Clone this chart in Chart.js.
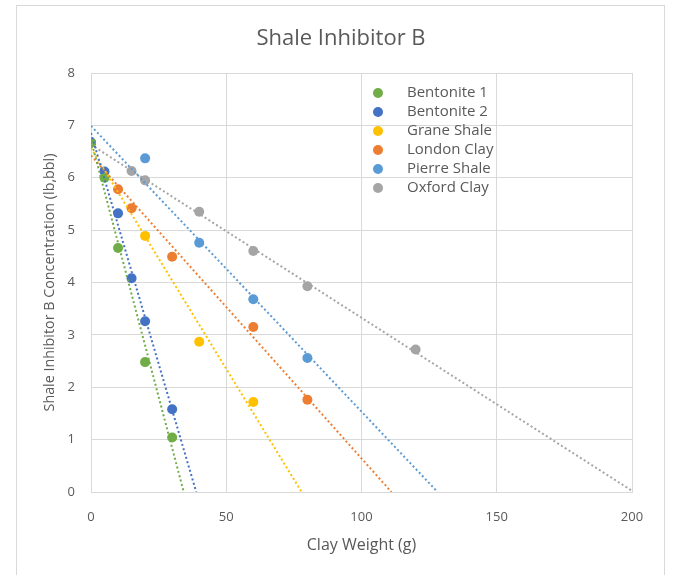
<!DOCTYPE html>
<html>
<head>
<meta charset="utf-8">
<script src="https://cdn.jsdelivr.net/npm/chart.js@4"></script>
<style>
  html, body { margin: 0; padding: 0; background: #fff; overflow: hidden; }
  #wrap { position: relative; width: 673px; height: 575px; }
  #frame { position: absolute; left: 16px; top: 5px; width: 647px; height: 600px; border: 1px solid #d9d9d9; }
  #chart { position: absolute; left: 0; top: 0; }
</style>
</head>
<body>
<div id="wrap">
  <div id="frame"></div>
  <canvas id="chart" width="673" height="575"></canvas>
</div>
<script>
// series names and colours (Excel default palette)
const seriesNames = ["Bentonite 1", "Bentonite 2", "Grane Shale", "London Clay", "Pierre Shale", "Oxford Clay"];
const seriesColors = ["#70AD47", "#4472C4", "#FFC000", "#ED7D31", "#5B9BD5", "#A5A5A5"];

// clay weight (g) and concentration (lb,bbl)
const bentonite1X = [0, 5, 10, 20, 30];
const bentonite1Y = [6.67, 6.0, 4.66, 2.48, 1.04];
const bentonite2X = [0, 5, 10, 15, 20, 30];
const bentonite2Y = [6.67, 6.12, 5.32, 4.08, 3.26, 1.58];
const graneX = [0, 20, 40, 60];
const graneY = [6.67, 4.89, 2.87, 1.72];
const londonX = [0, 10, 15, 30, 60, 80];
const londonY = [6.67, 5.78, 5.42, 4.49, 3.15, 1.76];
const pierreX = [0, 20, 40, 60, 80];
const pierreY = [6.67, 6.37, 4.76, 3.68, 2.56];
const oxfordX = [0, 15, 20, 40, 60, 80, 120];
const oxfordY = [6.67, 6.13, 5.95, 5.35, 4.60, 3.93, 2.72];

const xTicks = [0, 50, 100, 150, 200];
const yTicks = [0, 1, 2, 3, 4, 5, 6, 7, 8];

const seriesX = [bentonite1X, bentonite2X, graneX, londonX, pierreX, oxfordX];
const seriesY = [bentonite1Y, bentonite2Y, graneY, londonY, pierreY, oxfordY];

const chartTitle = "Shale Inhibitor B";
const yTitle = "Shale Inhibitor B Concentration (lb,bbl)";
const textColor = "#595959";
const gridColor = "#d9d9d9";
const fontFamily = "'Open Sans', 'Noto Sans', sans-serif";

// least squares line, run forward until it meets the x axis (like an Excel trendline)
function trendline(xs, ys) {
  let n = xs.length;
  let mx = xs.reduce((a, b) => a + b, 0) / n;
  let my = ys.reduce((a, b) => a + b, 0) / n;
  let sxy = 0, sxx = 0;
  for (let i = 0; i < n; i++) {
    sxy += (xs[i] - mx) * (ys[i] - my);
    sxx += (xs[i] - mx) ** 2;
  }
  let slope = sxy / sxx;
  let icpt = my - slope * mx;
  let xEnd = Math.min(-icpt / slope, xTicks[xTicks.length - 1]);
  return [{ x: 0, y: icpt }, { x: xEnd, y: icpt + slope * xEnd }];
}

let datasets = [];
seriesNames.forEach(function (name, i) {
  datasets.push({
    label: name,
    data: seriesX[i].map((x, j) => ({ x: x, y: seriesY[i][j] })),
    backgroundColor: seriesColors[i],
    borderColor: seriesColors[i],
    pointRadius: 5,
    pointHoverRadius: 5,
    borderWidth: 0,
    order: 2,
  });
});
seriesNames.forEach(function (name, i) {
  datasets.push({
    label: name + " trend",
    data: trendline(seriesX[i], seriesY[i]),
    showLine: true,
    borderColor: seriesColors[i],
    borderWidth: 2,
    borderDash: [2, 2.5],
    pointRadius: 0,
    order: 1,
  });
});

// title centred on the whole frame, y title on the plot middle, legend inside the plot
const frameText = {
  id: "frameText",
  afterDraw(chart) {
    const ctx = chart.ctx;
    const area = chart.chartArea;
    ctx.save();
    ctx.fillStyle = textColor;
    ctx.textBaseline = "middle";
    ctx.textAlign = "center";
    ctx.font = "22px " + fontFamily;
    ctx.fillText(chartTitle, 341, 39);

    ctx.save();
    ctx.font = "14.3px " + fontFamily;
    ctx.translate(50, (area.top + area.bottom) / 2);
    ctx.rotate(-Math.PI / 2);
    ctx.fillText(yTitle, 0, 0);
    ctx.restore();

    ctx.font = "15px " + fontFamily;
    ctx.textAlign = "left";
    seriesNames.forEach(function (name, i) {
      let y = 93 + i * 19;
      ctx.beginPath();
      ctx.arc(378, y, 5, 0, Math.PI * 2);
      ctx.fillStyle = seriesColors[i];
      ctx.fill();
      ctx.fillStyle = textColor;
      ctx.fillText(name, 407, y);
    });
    ctx.restore();
  },
};

new Chart(document.getElementById("chart"), {
  type: "scatter",
  data: { datasets: datasets },
  plugins: [frameText],
  options: {
    responsive: false,
    animation: false,
    layout: { padding: { top: 73, right: 41, bottom: 0, left: 0 } },
    plugins: {
      legend: { display: false },
      tooltip: { enabled: false },
      title: { display: false },
    },
    scales: {
      x: {
        type: "linear",
        min: 0,
        max: 200,
        afterBuildTicks: (scale) => { scale.ticks = xTicks.map((v) => ({ value: v })); },
        afterFit: (scale) => { scale.height = 83; },
        ticks: { color: textColor, font: { family: fontFamily, size: 13 }, padding: 17 },
        grid: { color: gridColor, drawTicks: false },
        border: { color: gridColor },
        title: {
          display: true,
          text: "Clay Weight (g)",
          color: textColor,
          font: { family: fontFamily, size: 16 },
          padding: { top: 0, bottom: 20 },
        },
      },
      y: {
        type: "linear",
        min: 0,
        max: 8,
        afterBuildTicks: (scale) => { scale.ticks = yTicks.map((v) => ({ value: v })); },
        afterFit: (scale) => { scale.width = 91; },
        ticks: { color: textColor, font: { family: fontFamily, size: 13 }, padding: 16 },
        grid: { color: gridColor, drawTicks: false },
        border: { color: gridColor },
      },
    },
  },
});
</script>
</body>
</html>
